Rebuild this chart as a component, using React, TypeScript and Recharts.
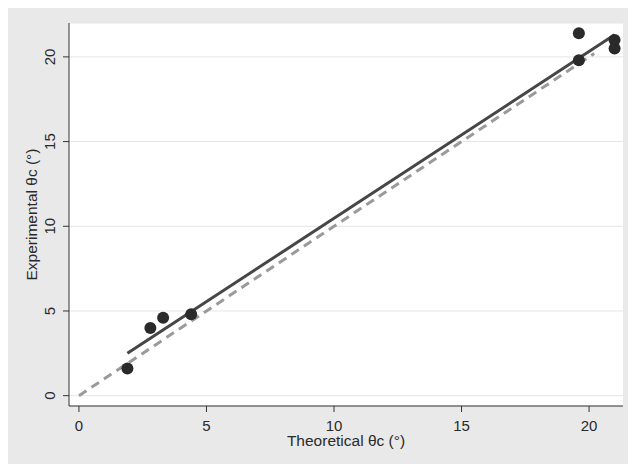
import React from "react";
import { ComposedChart, XAxis, YAxis, CartesianGrid, Scatter, Line, Label } from "recharts";

const theoretical = [1.9, 2.8, 3.3, 4.4, 19.6, 19.6, 21.0, 21.0];
const experimental = [1.6, 4.0, 4.6, 4.8, 21.4, 19.8, 21.0, 20.5];
const fitX = [1.9, 21.0];
const fitY = [2.5, 21.3];
const identityX = [0, 20.2];
const ticks = [0, 5, 10, 15, 20];

const points = theoretical.map((x, i) => ({ x, y: experimental[i] }));
const fitLine = fitX.map((x, i) => ({ x, y: fitY[i] }));
const identityLine = identityX.map((x) => ({ x, y: x }));

const FONT = '"Liberation Sans", Arial, Helvetica, sans-serif';

const YTick = (props: any) => {
  const { x, y, payload } = props;
  return (
    <text
      x={x}
      y={y}
      dy="0.36em"
      transform={`rotate(-90 ${x} ${y})`}
      textAnchor="middle"
      fontSize={15}
      fontFamily={FONT}
      fill="#2a2a2a"
    >
      {payload.value}
    </text>
  );
};

const Dot = (props: any) => {
  const { cx, cy } = props;
  return <circle cx={cx} cy={cy} r={6} fill="#2a2a2a" />;
};

export default function App() {
  return (
    <div style={{ width: 628, height: 456 }}>
      <ComposedChart
        width={628}
        height={456}
        margin={{ top: 15, right: 13, bottom: 0, left: 0 }}
        style={{ background: "#e9e9e9" }}
      >
        <CartesianGrid vertical={false} stroke="#e6e6e6" fill="#ffffff" />
        <XAxis
          dataKey="x"
          type="number"
          domain={[-0.39, 21.33]}
          ticks={ticks}
          allowDataOverflow
          height={58}
          tickSize={6}
          tickMargin={8}
          stroke="#333"
          tick={{ fill: "#2a2a2a", fontSize: 15, fontFamily: FONT }}
        >
          <Label
            value="Theoretical θc (°)"
            position="insideBottom"
            offset={18}
            fill="#2a2a2a"
            fontSize={15.5}
            fontFamily={FONT}
          />
        </XAxis>
        <YAxis
          dataKey="y"
          type="number"
          domain={[-0.61, 22.0]}
          ticks={ticks}
          allowDataOverflow
          width={61}
          tickSize={6}
          tickMargin={13}
          stroke="#333"
          tick={<YTick />}
        >
          <Label
            content={(p: any) => {
              const vb = p.viewBox || {};
              const cy = (vb.y ?? 15) + (vb.height ?? 383) / 2;
              const cx = 23;
              return (
                <text
                  x={cx}
                  y={cy}
                  dy="0.36em"
                  transform={`rotate(-90 ${cx} ${cy})`}
                  textAnchor="middle"
                  fontSize={15.5}
                  fontFamily={FONT}
                  fill="#2a2a2a"
                >
                  Experimental θc (°)
                </text>
              );
            }}
          />
        </YAxis>
        <Line
          data={identityLine}
          dataKey="y"
          type="linear"
          stroke="#9a9a9a"
          strokeWidth={3}
          strokeDasharray="9 6"
          dot={false}
          activeDot={false}
          isAnimationActive={false}
        />
        <Line
          data={fitLine}
          dataKey="y"
          type="linear"
          stroke="#464646"
          strokeWidth={3}
          dot={false}
          activeDot={false}
          isAnimationActive={false}
        />
        <Scatter data={points} dataKey="y" shape={<Dot />} isAnimationActive={false} />
      </ComposedChart>
    </div>
  );
}
